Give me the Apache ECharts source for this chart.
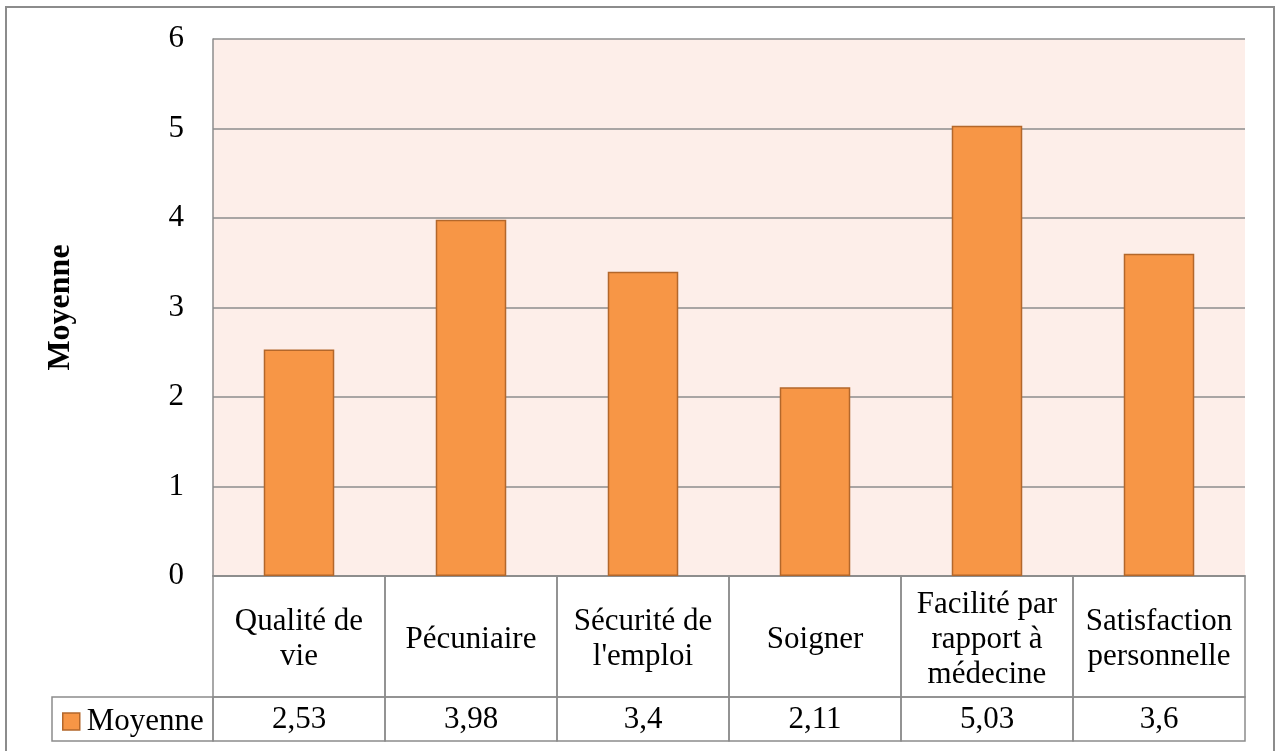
<!DOCTYPE html>
<html>
<head>
<meta charset="utf-8">
<style>
  html, body { margin: 0; padding: 0; background: #fff; }
  #chart { width: 1277px; height: 751px; }
</style>
<script src="https://cdn.jsdelivr.net/npm/echarts@6/dist/echarts.min.js"></script>
</head>
<body>
<div id="chart"></div>
<script>
// données
const categories = [
    'Qualité de\nvie',
    'Pécuniaire',
    'Sécurité de\nl\'emploi',
    'Soigner',
    'Facilité par\nrapport à\nmédecine',
    'Satisfaction\npersonnelle'
];
const moyenne = [2.53, 3.98, 3.4, 2.11, 5.03, 3.6];
const seriesName = 'Moyenne';

const FONT = "'Liberation Serif', 'Times New Roman', serif";
const GRID_COLOR = '#8c8c8c';
const BAR_COLOR = '#F79646';
const BAR_BORDER = '#B3672B';

// part de la hauteur du tableau prise par la ligne des valeurs
const VALUE_ROW = 44 / 165;

const chart = echarts.init(document.getElementById('chart'));

// chaque colonne du tableau de données sous le graphique
function renderTableCell(params, api) {
    const i = api.value(0);
    const cx = api.coord([i, 0])[0];
    const w = api.size([1, 0])[0];
    const yTop = api.coord([i, 1])[1];
    const yMid = api.coord([i, VALUE_ROW])[1];
    const yBot = api.coord([i, 0])[1];
    const lineStyle = { fill: null, stroke: GRID_COLOR, lineWidth: 1.5 };
    return {
        type: 'group',
        children: [
            { type: 'rect', shape: { x: cx - w / 2, y: yTop, width: w, height: yMid - yTop }, style: lineStyle },
            { type: 'rect', shape: { x: cx - w / 2, y: yMid, width: w, height: yBot - yMid }, style: lineStyle },
            {
                type: 'text',
                style: {
                    text: categories[i], x: cx, y: (yTop + yMid) / 2 + 3,
                    align: 'center', verticalAlign: 'middle',
                    fontSize: 31, lineHeight: 35, fontFamily: FONT, fill: '#000'
                }
            },
            {
                type: 'text',
                style: {
                    text: String(api.value(1)).replace('.', ','), x: cx, y: (yMid + yBot) / 2 + 1,
                    align: 'center', verticalAlign: 'middle',
                    fontSize: 31, fontFamily: FONT, fill: '#000'
                }
            }
        ]
    };
}

const option = {
    backgroundColor: '#fff',
    animation: false,
    grid: [
        { left: 213, top: 39, width: 1032, height: 537, show: true, backgroundColor: '#FDEEE9', borderWidth: 0 },
        { left: 213, top: 576, width: 1032, height: 165 }
    ],
    legend: {
        data: [seriesName],
        left: 57,
        top: 701,
        icon: 'rect',
        itemWidth: 17,
        itemHeight: 17,
        itemStyle: { borderColor: BAR_BORDER, borderWidth: 1.5 },
        textStyle: { fontSize: 31, fontFamily: FONT, color: '#000', padding: [0, 0, 0, 2] }
    },
    xAxis: [
        {
            type: 'category', gridIndex: 0, data: categories,
            axisLine: { show: true, lineStyle: { color: GRID_COLOR, width: 1.5 } },
            axisTick: { show: false },
            axisLabel: { show: false }
        },
        { type: 'category', gridIndex: 1, data: categories, show: false }
    ],
    yAxis: [
        {
            type: 'value', gridIndex: 0, min: 0, max: 6, interval: 1,
            name: seriesName,
            nameLocation: 'middle',
            nameGap: 136,
            nameRotate: 90,
            nameTextStyle: { fontSize: 32, fontWeight: 'bold', fontFamily: FONT, color: '#000' },
            axisLine: { show: true, lineStyle: { color: GRID_COLOR, width: 1.5 } },
            axisTick: { show: false },
            axisLabel: { fontSize: 31, fontFamily: FONT, color: '#000', margin: 29, padding: [8, 0, 0, 0] },
            splitLine: { show: true, lineStyle: { color: GRID_COLOR, width: 1.5 } }
        },
        { type: 'value', gridIndex: 1, min: 0, max: 1, show: false }
    ],
    series: [
        {
            name: seriesName,
            type: 'bar',
            xAxisIndex: 0,
            yAxisIndex: 0,
            data: moyenne,
            barWidth: '41%',
            itemStyle: { color: BAR_COLOR, borderColor: BAR_BORDER, borderWidth: 1.5 }
        },
        {
            name: 'tableau',
            type: 'custom',
            xAxisIndex: 1,
            yAxisIndex: 1,
            silent: true,
            data: moyenne.map((v, i) => [i, v]),
            renderItem: renderTableCell
        }
    ],
    graphic: [
        // cadre extérieur
        { type: 'rect', shape: { x: 6, y: 7, width: 1268, height: 760 }, style: { fill: null, stroke: GRID_COLOR, lineWidth: 2 }, z: -1 },
        // case de la légende
        { type: 'rect', shape: { x: 52, y: 697, width: 161, height: 44 }, style: { fill: null, stroke: GRID_COLOR, lineWidth: 1.5 } }
    ]
};

chart.setOption(option);
</script>
</body>
</html>
